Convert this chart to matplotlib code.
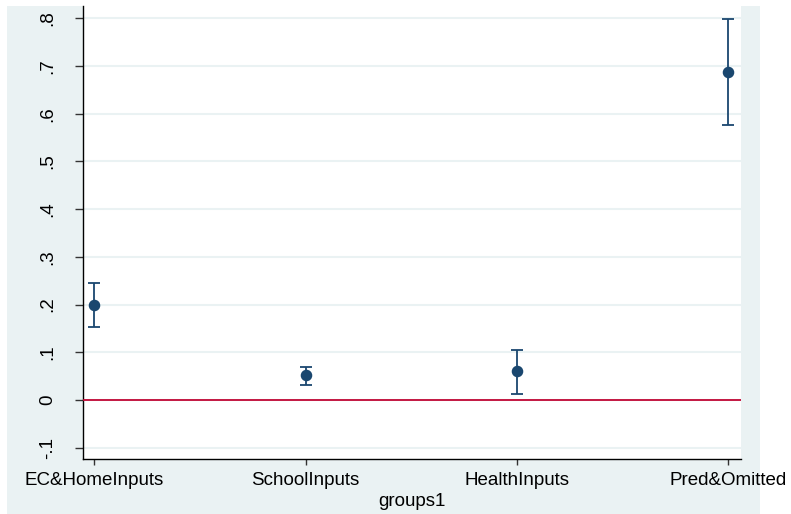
import matplotlib
matplotlib.use("Agg")
import matplotlib.pyplot as plt
from matplotlib.patches import Rectangle

groups = ["EC&HomeInputs", "SchoolInputs", "HealthInputs", "Pred&Omitted"]
estimate = [0.200, 0.0525, 0.0595, 0.688]
ci_low = [0.1525, 0.032, 0.013, 0.576]
ci_high = [0.2458, 0.0685, 0.1036, 0.7996]
yticks = [-0.1, 0, 0.1, 0.2, 0.3, 0.4, 0.5, 0.6, 0.7, 0.8]
ytick_labels = ["-.1", "0", ".1", ".2", ".3", ".4", ".5", ".6", ".7", ".8"]

plt.rcParams["font.family"] = ["Liberation Sans", "DejaVu Sans"]

W, H = 791, 514
fig = plt.figure(figsize=(W / 100, H / 100), dpi=100, facecolor="white")

# light graph region behind the plot
fig.add_artist(Rectangle((7 / W, 0), 753 / W, 508 / H, transform=fig.transFigure,
                         facecolor="#EAF2F3", edgecolor="none", zorder=-5))

ax = fig.add_axes([82.7 / W, 55 / H, 658 / W, 453 / H])
ax.set_facecolor("white")

x = list(range(1, len(groups) + 1))
yerr = [[e - lo for e, lo in zip(estimate, ci_low)],
        [hi - e for e, hi in zip(estimate, ci_high)]]
ax.errorbar(x, estimate, yerr=yerr, fmt="o", color="#1A476F", ecolor="#1A476F",
            markersize=7.3, elinewidth=1.3, capsize=4, capthick=1.3, zorder=4)

ax.axhline(0, color="#C10534", linewidth=1.3, zorder=3)

ax.set_xlim(0.945, 4.059)
ax.set_ylim(-0.124, 0.826)

ax.set_yticks(yticks)
ax.set_yticklabels(ytick_labels, rotation=90, va="center")
ax.set_xticks(x)
ax.set_xticklabels(groups)
ax.set_xlabel("groups1", fontsize=13.5, labelpad=3)

ax.grid(axis="y", color="#EAF2F3", linewidth=1.5, zorder=1)
ax.set_axisbelow(True)

for side in ["top", "right"]:
    ax.spines[side].set_visible(False)
for side in ["left", "bottom"]:
    ax.spines[side].set_linewidth(1.0)
    ax.spines[side].set_color("black")

ax.tick_params(axis="y", length=6, width=1, color="#333333", labelsize=13.5, pad=13)
ax.tick_params(axis="x", length=4.5, width=1, color="#333333", labelsize=13.5, pad=5)

fig.savefig("out.png", dpi=100, facecolor="white")
